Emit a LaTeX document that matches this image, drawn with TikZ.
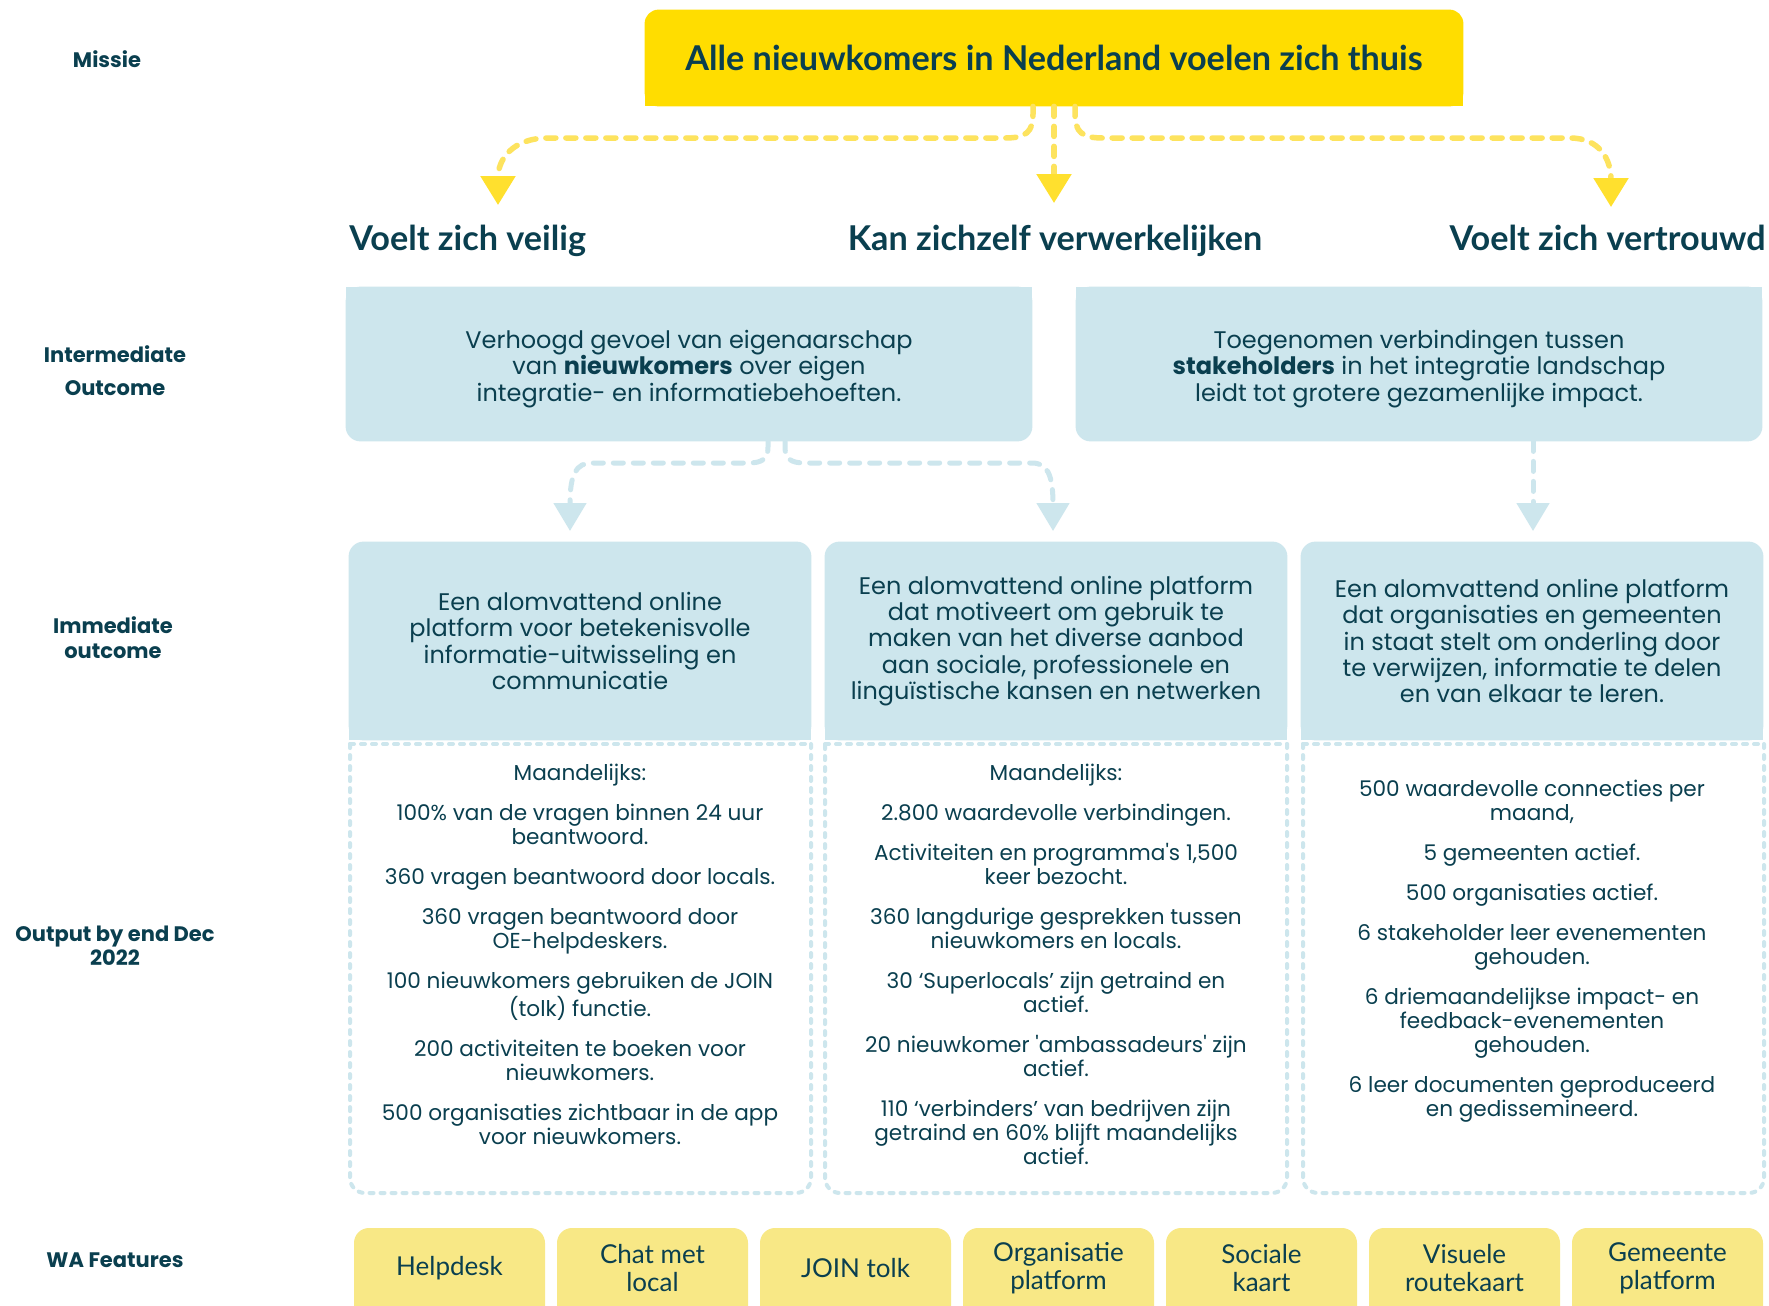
\documentclass[tikz,border=0pt]{standalone}
\usepackage{fontspec}
\setmainfont{Poppins}
\newfontfamily\headfont{Lato}
\usetikzlibrary{arrows.meta,backgrounds}

\definecolor{ink}{HTML}{0A3F4F}
\definecolor{sun}{HTML}{FFDD00}
\definecolor{sunline}{HTML}{FDE35E}
\definecolor{suntip}{HTML}{FFE02E}
\definecolor{sky}{HTML}{CDE6ED}
\definecolor{butter}{HTML}{F8E886}

\tikzset{
  rowlabel/.style={font=\bfseries\fontsize{10.5}{12.5}\selectfont, text=ink, align=center, inner sep=0pt},
  heading/.style={font=\headfont\bfseries\fontsize{17.1}{20}\selectfont, text=ink, inner sep=0pt},
  bodytext/.style={text=ink, align=center, inner sep=0pt},
  boxtext/.style={bodytext, font=\fontsize{12}{13.2}\selectfont},
  outtext/.style={bodytext, font=\fontsize{10.8}{12}\selectfont, anchor=north},
  feature/.style={font=\headfont\fontsize{13}{14}\selectfont, text=ink, align=center, inner sep=0pt},
  panel/.style={inner sep=0pt},
  yellowflow/.style={draw=sunline, line width=2.75pt, line cap=round, dash pattern=on 5pt off 5pt,
    -{Triangle[width=17pt,length=14.5pt,color=suntip]}},
  blueflow/.style={draw=sky, line width=2.5pt, line cap=round, dash pattern=on 5pt off 5pt,
    -{Triangle[width=16pt,length=14pt]}},
  outline/.style={draw=sky, line width=2pt, line cap=round, dash pattern=on 2pt off 3.5pt},
}

\begin{document}
\begin{tikzpicture}[x=0.5pt,y=-0.5pt]
\useasboundingbox (0,0) rectangle (1769,1306);
\clip (0,0) rectangle (1769,1306);

% row labels
\node[rowlabel] (lmissie) at (107,59) {Missie};
\node[rowlabel, font=\bfseries\fontsize{10.5}{16.5}\selectfont] (linter) at (115,371) {Intermediate\\Outcome};
\node[rowlabel] (limm) at (113,638) {Immediate\\outcome};
\node[rowlabel, font=\bfseries\fontsize{10.5}{12}\selectfont] (lout) at (115,946) {Output by end Dec\\2022};
\node[rowlabel] (lwa) at (115,1260) {WA Features};

% mission
\node[heading, minimum width=409pt, minimum height=48pt] (mb) at (1054,58)
  {Alle nieuwkomers in Nederland voelen zich thuis};

% outcome headings
\node[heading, anchor=base west] (t1) at (349,250) {Voelt zich veilig};
\node[heading, anchor=base] (t2) at (1055,250) {Kan zichzelf verwerkelijken};
\node[heading, anchor=base east] (t3) at (1766,250) {Voelt zich vertrouwd};

% intermediate outcome panels and their texts
\node[panel, minimum width=343pt, minimum height=77pt] (i1) at (689,364) {};
\node[panel, minimum width=343pt, minimum height=77pt] (i2) at (1419,364) {};
\node[boxtext] (i1t) at (689,369)
  {Verhoogd gevoel van eigenaarschap\\van \textbf{nieuwkomers} over eigen\\integratie- en informatiebehoeften.};
\node[boxtext] (i2t) at (1419,369)
  {Toegenomen verbindingen tussen\\\textbf{stakeholders} in het integratie landschap\\leidt tot grotere gezamenlijke impact.};

% immediate outcomes
\node[boxtext, minimum width=231pt, minimum height=99pt] (a1) at (580,641)
  {Een alomvattend online\\platform voor betekenisvolle\\informatie-uitwisseling en\\communicatie};
\node[boxtext, minimum width=231pt, minimum height=99pt] (a2) at (1056,641)
  {Een alomvattend online platform\\dat motiveert om gebruik te\\maken van het diverse aanbod\\aan sociale, professionele en\\linguïstische kansen en netwerken};
\node[boxtext, minimum width=231pt, minimum height=99pt] (a3) at (1532,641)
  {Een alomvattend online platform\\dat organisaties en gemeenten\\in staat stelt om onderling door\\te verwijzen, informatie te delen\\en van elkaar te leren.};

% outputs
\node[outtext] (o1) at (580,764)
  {Maandelijks:\\[8pt]
   100\% van de vragen binnen 24 uur\\beantwoord.\\[8pt]
   360 vragen beantwoord door locals.\\[8pt]
   360 vragen beantwoord door\\OE-helpdeskers.\\[8pt]
   100 nieuwkomers gebruiken de JOIN\\(tolk) functie.\\[8pt]
   200 activiteiten te boeken voor\\nieuwkomers.\\[8pt]
   500 organisaties zichtbaar in de app\\voor nieuwkomers.};
\node[outtext] (o2) at (1056,764)
  {Maandelijks:\\[8pt]
   2.800 waardevolle verbindingen.\\[8pt]
   Activiteiten en programma\textquotesingle s 1,500\\keer bezocht.\\[8pt]
   360 langdurige gesprekken tussen\\nieuwkomers en locals.\\[8pt]
   30 ‘Superlocals’ zijn getraind en\\actief.\\[8pt]
   20 nieuwkomer \textquotesingle ambassadeurs\textquotesingle\ zijn\\actief.\\[8pt]
   110 ‘verbinders’ van bedrijven zijn\\getraind en 60\% blijft maandelijks\\actief.};
\node[outtext] (o3) at (1532,780)
  {500 waardevolle connecties per\\maand,\\[8pt]
   5 gemeenten actief.\\[8pt]
   500 organisaties actief.\\[8pt]
   6 stakeholder leer evenementen\\gehouden.\\[8pt]
   6 driemaandelijkse impact- en\\feedback-evenementen\\gehouden.\\[8pt]
   6 leer documenten geproduceerd\\en gedissemineerd.};

% WA features
\foreach \k/\txt in {0/{Helpdesk},1/{Chat met\\local},2/{JOIN tolk},3/{Organisatie\\platform},
                     4/{Sociale\\kaart},5/{Visuele\\routekaart},6/{Gemeente\\platform}}{
  \node[feature] (wa\k) at ({449.5+203*\k},1268) {\txt};
}

% arrow end points
\coordinate (yl) at (498,205);
\coordinate (ym) at (1054,203);
\coordinate (yr) at (1611,207);
\coordinate (bl) at (570,531);
\coordinate (bm) at (1053,531);
\coordinate (br) at (1533,531);

% mission -> outcomes
\draw[yellowflow] ([xshift=-10.5pt]mb.south) -- (1033,114)
  .. controls (1033,132) and (1026,138) .. (1005,138) -- (548,138)
  .. controls (512,138) and (498,160) .. (yl);
\draw[yellowflow] (mb.south) -- (ym);
\draw[yellowflow] ([xshift=10.5pt]mb.south) -- (1075,114)
  .. controls (1075,132) and (1082,138) .. (1103,138) -- (1570,138)
  .. controls (1600,138) and (1611,160) .. (yr);

% intermediate -> immediate
\draw[blueflow] ([xshift=39.5pt]i1.south) -- (768,447)
  .. controls (768,459) and (762,463) .. (748,463) -- (592,463)
  .. controls (576,463) and (570,474) .. (bl);
\draw[blueflow] ([xshift=48pt]i1.south) -- (785,447)
  .. controls (785,459) and (791,463) .. (805,463) -- (1032,463)
  .. controls (1047,463) and (1053,474) .. (bm);
\draw[blueflow] ([xshift=57pt]i2.south) -- (br);

% dashed output frames
\draw[outline] (350,744) -- (811,744);
\draw[outline, rounded corners=7.5pt] (811,744) -- (811,1193) -- (350,1193) -- (350,744);
\draw[outline] (825,744) -- (1287,744);
\draw[outline, rounded corners=7.5pt] (1287,744) -- (1287,1193) -- (825,1193) -- (825,744);
\draw[outline] (1303,744) -- (1764,744);
\draw[outline, rounded corners=7.5pt] (1764,744) -- (1764,1193) -- (1303,1193) -- (1303,744);

% box fills behind the text
\begin{scope}[on background layer]
  \fill[white] (0,0) rectangle (1769,1306);
  \fill[sun, rounded corners=7pt] (mb.north west) rectangle (mb.south east);
  \fill[sun] (mb.west) rectangle (mb.south east);
  \foreach \b in {i1,i2}{
    \fill[sky, rounded corners=7.5pt] (\b.north west) rectangle (\b.south east);
    \fill[sky] (\b.north west) rectangle (\b.east);
  }
  \foreach \b in {a1,a2,a3}{
    \fill[sky, rounded corners=7.5pt] (\b.north west) rectangle (\b.south east);
    \fill[sky] (\b.west) rectangle (\b.south east);
  }
  \foreach \k in {0,...,6}{
    \fill[butter, rounded corners=7.5pt] ({354+203*\k},1228) rectangle ++(191,120);
  }
\end{scope}
\end{tikzpicture}
\end{document}
